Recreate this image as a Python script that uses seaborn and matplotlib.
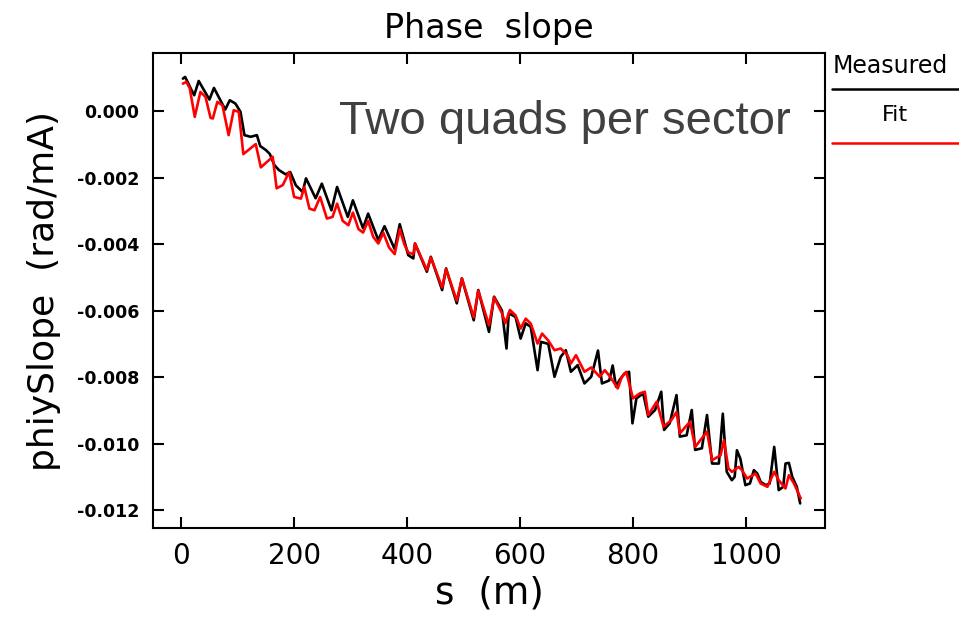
import matplotlib
matplotlib.use("Agg")
import matplotlib.pyplot as plt
from matplotlib.lines import Line2D
import seaborn as sns
import pandas as pd

# measured phase slope (black)
meas_s = [3, 7, 17, 23, 31, 50, 58, 78, 86, 96, 105, 112, 123, 134, 140, 150, 157, 165, 173, 185,
          193, 203, 215, 221, 238, 249, 266, 276, 295, 304, 322, 331, 349, 360, 378, 387, 402, 411,
          414, 435, 442, 462, 469, 488, 497, 518, 526, 545, 554, 568, 576, 580, 592, 601, 610, 619,
          631, 637, 650, 661, 672, 681, 690, 702, 714, 726, 738, 745, 758, 764, 770, 776, 785, 793,
          799, 806, 818, 827, 839, 850, 855, 865, 877, 883, 895, 904, 910, 922, 931, 940, 952, 959,
          966, 975, 980, 984, 990, 999, 1007, 1014, 1020, 1026, 1035, 1042, 1050, 1058, 1066, 1070,
          1076, 1082, 1090, 1096]
meas_val = [0.00098, 0.00103, 0.00068, 0.00048, 0.00091, 0.00035, 0.00070, 0.00005, 0.00033, 0.00023,
            -0.00002, -0.00072, -0.00077, -0.00072, -0.00105, -0.00117, -0.00129, -0.00162, -0.00177,
            -0.00190, -0.00183, -0.00223, -0.00243, -0.00202, -0.00262, -0.00218, -0.00298, -0.00228,
            -0.00318, -0.00268, -0.00352, -0.00308, -0.00388, -0.00346, -0.00415, -0.00340, -0.00433,
            -0.00443, -0.00398, -0.00483, -0.00438, -0.00538, -0.00473, -0.00578, -0.00503, -0.00629,
            -0.00538, -0.00664, -0.00558, -0.00600, -0.00714, -0.00608, -0.00619, -0.00684, -0.00638,
            -0.00649, -0.00779, -0.00694, -0.00700, -0.00799, -0.00739, -0.00719, -0.00784, -0.00764,
            -0.00819, -0.00799, -0.00720, -0.00819, -0.00810, -0.00765, -0.00829, -0.00809, -0.00789,
            -0.00784, -0.00939, -0.00864, -0.00849, -0.00919, -0.00899, -0.00844, -0.00959, -0.00939,
            -0.00854, -0.00979, -0.00975, -0.00899, -0.01019, -0.01014, -0.00914, -0.01060, -0.01060,
            -0.00910, -0.01085, -0.01110, -0.01100, -0.01020, -0.01045, -0.01125, -0.01120, -0.01080,
            -0.01090, -0.01115, -0.01125, -0.01120, -0.01010, -0.01140, -0.01130, -0.01060, -0.01058,
            -0.01100, -0.01130, -0.01180]

# model fit (red)
fit_s = [3, 9, 15, 24, 34, 43, 52, 56, 64, 73, 84, 93, 102, 110, 132, 141, 162, 169, 180, 191,
         200, 212, 218, 227, 236, 246, 258, 268, 276, 286, 296, 304, 314, 322, 331, 340, 349, 358,
         368, 378, 387, 395, 402, 411, 414, 435, 442, 462, 469, 488, 497, 518, 526, 545, 554, 568,
         574, 582, 592, 601, 610, 619, 631, 639, 650, 661, 672, 684, 690, 699, 714, 726, 741, 750,
         760, 773, 780, 788, 800, 812, 821, 827, 842, 854, 868, 877, 883, 901, 910, 931, 940, 955,
         961, 969, 975, 987, 993, 1002, 1017, 1026, 1038, 1050, 1058, 1070, 1076, 1085, 1097]
fit_val = [0.00083, 0.00088, 0.00070, -0.00017, 0.00058, 0.00043, -0.00020, -0.00022, 0.00028,
           0.00018, -0.00072, 0.00003, -0.00002, -0.00129, -0.00099, -0.00169, -0.00137, -0.00232,
           -0.00222, -0.00183, -0.00258, -0.00263, -0.00228, -0.00293, -0.00298, -0.00258, -0.00323,
           -0.00318, -0.00278, -0.00330, -0.00343, -0.00305, -0.00355, -0.00365, -0.00330, -0.00378,
           -0.00398, -0.00366, -0.00410, -0.00430, -0.00355, -0.00400, -0.00425, -0.00430, -0.00398,
           -0.00478, -0.00440, -0.00530, -0.00475, -0.00570, -0.00503, -0.00620, -0.00540, -0.00644,
           -0.00560, -0.00608, -0.00638, -0.00598, -0.00614, -0.00654, -0.00624, -0.00639, -0.00699,
           -0.00669, -0.00690, -0.00719, -0.00714, -0.00734, -0.00759, -0.00734, -0.00784, -0.00771,
           -0.00799, -0.00779, -0.00800, -0.00834, -0.00800, -0.00784, -0.00864, -0.00849, -0.00844,
           -0.00914, -0.00874, -0.00949, -0.00929, -0.00905, -0.00969, -0.00934, -0.01010, -0.00964,
           -0.01050, -0.01035, -0.00990, -0.01075, -0.01085, -0.01070, -0.01080, -0.01105, -0.01090,
           -0.01120, -0.01130, -0.01085, -0.01110, -0.01135, -0.01095, -0.01120, -0.01165]

x_ticks = [0, 200, 400, 600, 800, 1000]
y_ticks = [0.000, -0.002, -0.004, -0.006, -0.008, -0.010, -0.012]

meas = pd.DataFrame({"s": meas_s, "val": meas_val})
fit = pd.DataFrame({"s": fit_s, "val": fit_val})

sns.set_style("ticks")
plt.rcParams["font.family"] = ["DejaVu Sans"]
plt.rcParams.update({"text.color": "black", "axes.labelcolor": "black", "axes.edgecolor": "black",
                     "xtick.color": "black", "ytick.color": "black"})

fig = plt.figure(figsize=(9.59, 6.24), dpi=100)
ax = fig.add_axes([0.1595, 0.1538, 0.7008, 0.7612])

sns.lineplot(data=meas, x="s", y="val", color="black", linewidth=1.9, estimator=None, ax=ax)
sns.lineplot(data=fit, x="s", y="val", color="#ff0000", linewidth=1.9, estimator=None, ax=ax)

ax.set_xlim(-50, 1140)
ax.set_ylim(-0.01254, 0.00175)
ax.set_xticks(x_ticks)
ax.set_xticklabels([str(t) for t in x_ticks], fontsize=20)
ax.set_yticks(y_ticks)
ax.set_yticklabels([f"{t:.3f}" for t in y_ticks], fontsize=12.5, fontweight="bold")
ax.tick_params(direction="in", length=8, width=1.5, top=True, right=True, pad=10)
for sp in ax.spines.values():
    sp.set_linewidth(1.5)
    sp.set_visible(True)

ax.set_xlabel("s  (m)", fontsize=27, labelpad=4)
ax.set_ylabel("phiySlope  (rad/mA)", fontsize=26, labelpad=11)
ax.set_title("Phase  slope", fontsize=24, pad=11)

ax.text(0.613, 0.855, "Two quads per sector", transform=ax.transAxes, ha="center", va="center",
        fontsize=34, color="#404040", family="Liberation Sans")

# IDL-style legend at the right
fig.text(0.868, 0.895, "Measured", fontsize=17, ha="left", va="center")
fig.add_artist(Line2D([0.868, 1.0], [0.857, 0.857], color="black", linewidth=1.8))
fig.text(0.933, 0.815, "Fit", fontsize=16, ha="center", va="center")
fig.add_artist(Line2D([0.868, 1.0], [0.771, 0.771], color="#ff0000", linewidth=1.8))

fig.savefig("out.png", dpi=100)
